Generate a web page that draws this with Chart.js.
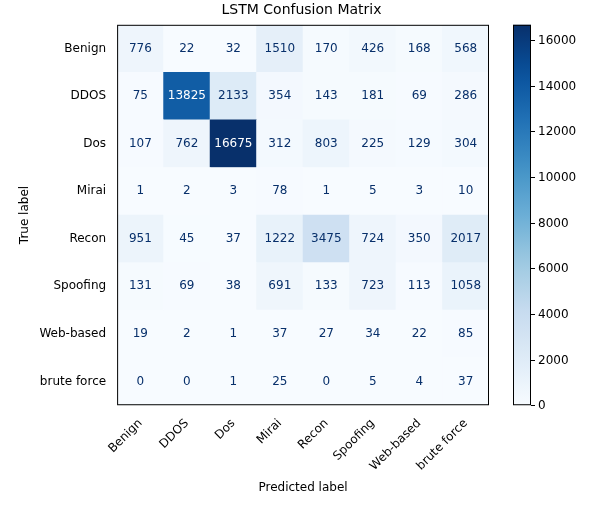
<!DOCTYPE html>
<html><head><meta charset="utf-8">
<script src="https://cdn.jsdelivr.net/npm/chart.js@4"></script>
<style>html,body{margin:0;padding:0;background:#fff}</style>
</head><body>
<canvas id="c" width="593" height="505"></canvas>
<script>
const labels = ["Benign","DDOS","Dos","Mirai","Recon","Spoofing","Web-based","brute force"];
const rowBenign   = [776,22,32,1510,170,426,168,568];
const rowDDOS     = [75,13825,2133,354,143,181,69,286];
const rowDos      = [107,762,16675,312,803,225,129,304];
const rowMirai    = [1,2,3,78,1,5,3,10];
const rowRecon    = [951,45,37,1222,3475,724,350,2017];
const rowSpoofing = [131,69,38,691,133,723,113,1058];
const rowWeb      = [19,2,1,37,27,34,22,85];
const rowBrute    = [0,0,1,25,0,5,4,37];
const matrix = [rowBenign,rowDDOS,rowDos,rowMirai,rowRecon,rowSpoofing,rowWeb,rowBrute];
const cbTicks = [0,2000,4000,6000,8000,10000,12000,14000,16000];
const vmax = 16675;

const stops = ["#f7fbff","#deebf7","#c6dbef","#9ecae1","#6baed6","#4292c6","#2171b5","#08519c","#08306b"];
function hex(h){return [1,3,5].map(i=>parseInt(h.substr(i,2),16));}
function blues(t){
  t=Math.max(0,Math.min(1,t)); const p=t*8, i=Math.min(7,Math.floor(p)), f=p-i;
  const a=hex(stops[i]), b=hex(stops[i+1]);
  return `rgb(${a.map((v,k)=>Math.round(v+(b[k]-v)*f)).join(",")})`;
}
const FONT = "'DejaVu Sans', sans-serif";
Chart.defaults.font.family = FONT;
Chart.defaults.color = "#000";

const datasets = [];
for (let r = matrix.length-1; r >= 0; r--) {
  datasets.push({ row: r, data: labels.map(()=>1),
    backgroundColor: matrix[r].map(v=>blues(v/vmax)), borderWidth:0,
    barPercentage:1, categoryPercentage:1, yAxisID:'y', xAxisID:'x' });
}

const overlay = {
  id:'overlay',
  afterDatasetsDraw(chart){
    const ctx=chart.ctx;
    ctx.save(); ctx.font="12px "+FONT; ctx.textAlign="center"; ctx.textBaseline="middle";
    chart.data.datasets.forEach((ds,di)=>{
      const meta=chart.getDatasetMeta(di);
      meta.data.forEach((bar,j)=>{
        const v=matrix[ds.row][j];
        ctx.fillStyle = v > vmax/2 ? "#fff" : "#08306b";
        ctx.fillText(String(v), bar.x, (bar.y+bar.base)/2);
      });
    });
    const a=chart.chartArea;
    ctx.strokeStyle="#000"; ctx.lineWidth=1;
    ctx.strokeRect(a.left+0.5,a.top+0.5,a.right-a.left-1,a.bottom-a.top-1);
    const s=chart.scales.cb, x0=s.left+24, w=18, top=s.getPixelForValue(vmax), bot=s.getPixelForValue(0);
    const g=ctx.createLinearGradient(0,bot,0,top);
    for(let k=0;k<=20;k++) g.addColorStop(k/20, blues(k/20));
    ctx.fillStyle=g; ctx.fillRect(x0,top,w,bot-top);
    ctx.strokeRect(x0+0.5,top+0.5,w-1,bot-top-1);
    ctx.textAlign="left"; ctx.fillStyle="#000";
    cbTicks.forEach(t=>{const y=Math.round(s.getPixelForValue(t))+0.5;
      ctx.beginPath(); ctx.moveTo(x0+w,y); ctx.lineTo(x0+w+4,y); ctx.stroke();
      ctx.fillText(String(t), x0+w+7, y);});
    ctx.restore();
  }
};

new Chart(document.getElementById('c'), {
  type:'bar',
  data:{ labels, datasets },
  options:{
    responsive:false, animation:false,
    layout:{ padding:{ left:14, right:4, top:0, bottom:6 } },
    plugins:{ legend:{display:false}, tooltip:{enabled:false},
      title:{display:true, text:"LSTM Confusion Matrix", font:{size:14, weight:'normal'}, padding:{top:2,bottom:6}} },
    scales:{
      x:{ stacked:true, grid:{display:false, drawTicks:true}, border:{display:false},
          ticks:{ maxRotation:45, minRotation:45, font:{size:12}, color:"#000" },
          title:{display:true, text:"Predicted label", font:{size:12}, padding:{top:4}} },
      y:{ stacked:true, min:0, max:8, display:false },
      y2:{ type:'category', labels, position:'left', offset:true, grid:{display:false},
           border:{display:false}, ticks:{font:{size:12}, color:"#000"},
           title:{display:true, text:"True label", font:{size:12}} },
      cb:{ type:'linear', position:'right', min:0, max:vmax, grid:{display:false}, border:{display:false},
           ticks:{ display:false },
           afterFit(s){ s.width = 100; } }
    }
  },
  plugins:[overlay]
});
</script>
</body></html>
